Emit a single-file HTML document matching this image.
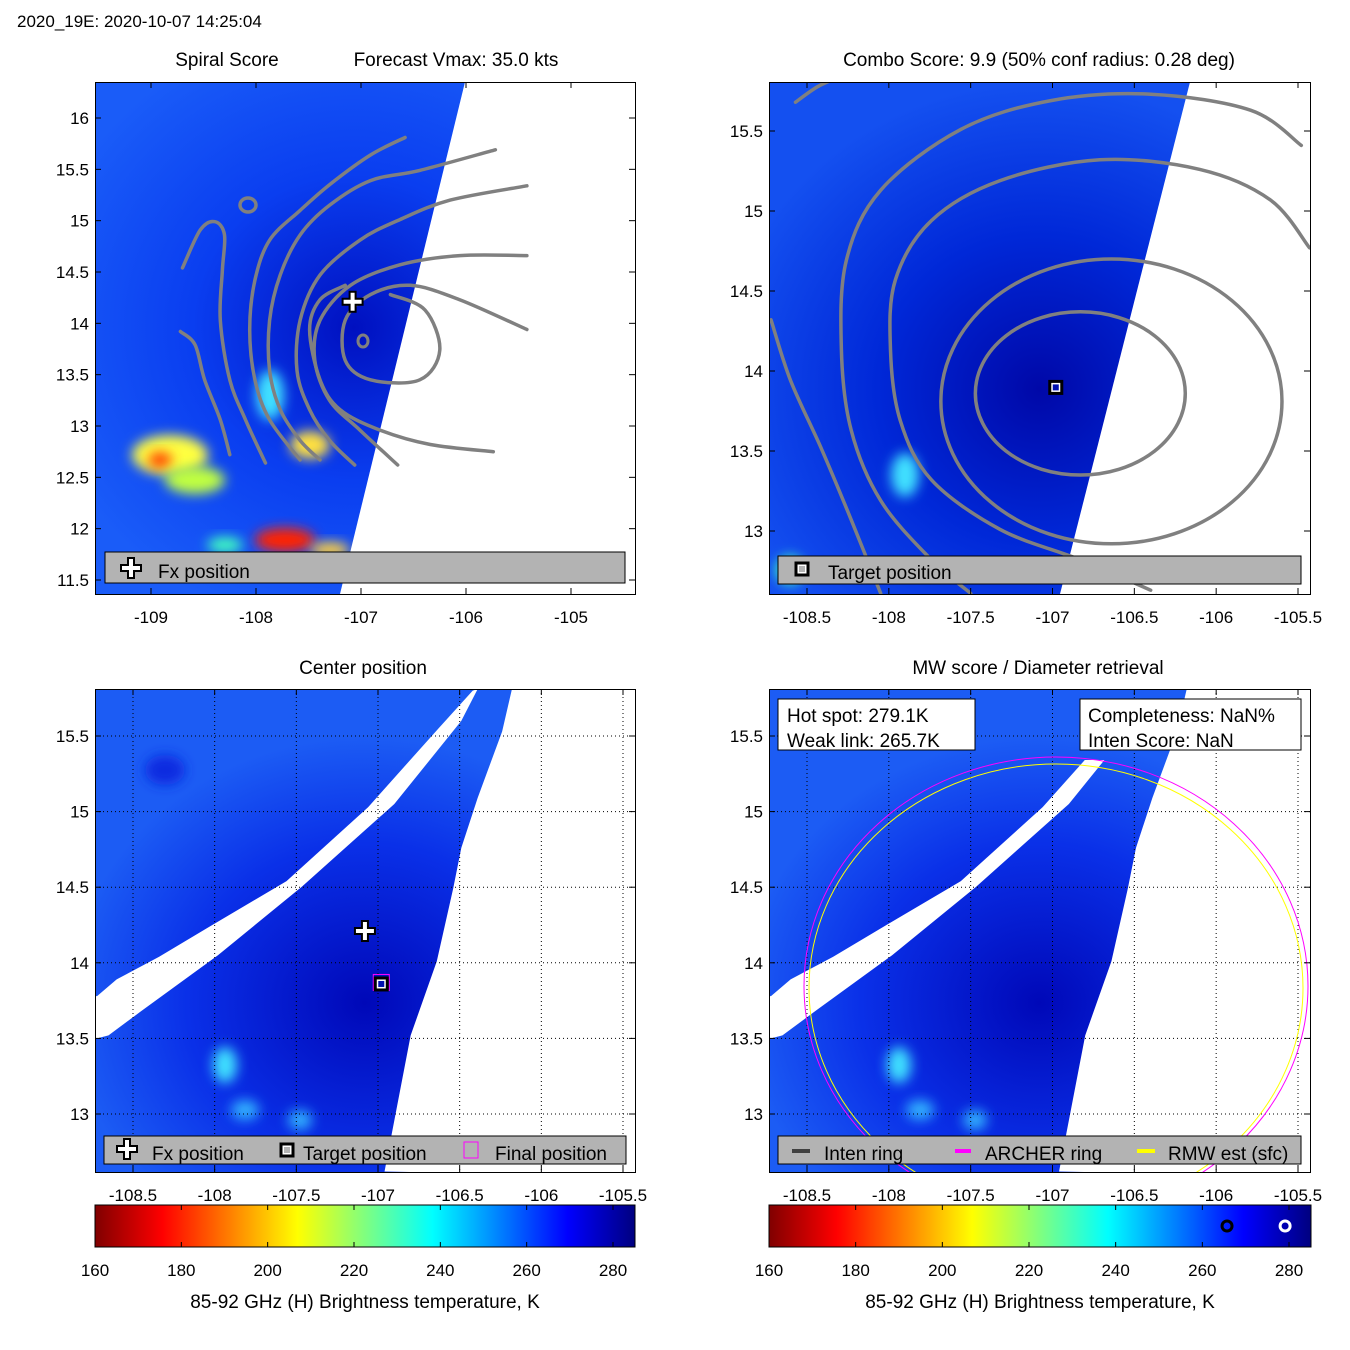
<!DOCTYPE html>
<html><head><meta charset="utf-8">
<style>
html,body{margin:0;padding:0;background:#fff;}
svg{display:block;font-family:"Liberation Sans",Arial,sans-serif;}
text{font-size:19px;fill:#000;}
text.tick{font-size:17px;}
</style></head>
<body>
<svg id="fig" width="1350" height="1350" viewBox="0 0 1350 1350" xmlns="http://www.w3.org/2000/svg">
<defs>
<linearGradient id="jet" x1="0" x2="1" y1="0" y2="0">
<stop offset="0" stop-color="#800000"/><stop offset="0.125" stop-color="#ff0000"/>
<stop offset="0.375" stop-color="#ffff00"/><stop offset="0.625" stop-color="#00ffff"/>
<stop offset="0.875" stop-color="#0000ff"/><stop offset="1" stop-color="#000080"/>
</linearGradient>
<radialGradient id="bg1" cx="0.48" cy="0.48" r="0.6"><stop offset="0" stop-color="#0010c0"/><stop offset="0.5" stop-color="#0a3ef0"/><stop offset="1" stop-color="#1a5cf8"/></radialGradient>
<radialGradient id="bg2" cx="0.5" cy="0.6" r="0.6"><stop offset="0" stop-color="#0008a8"/><stop offset="0.5" stop-color="#0028d8"/><stop offset="1" stop-color="#1450f0"/></radialGradient>
<radialGradient id="bg3" cx="0.5" cy="0.65" r="0.55"><stop offset="0" stop-color="#0008b8"/><stop offset="0.6" stop-color="#0a30e8"/><stop offset="1" stop-color="#1c5cf4"/></radialGradient>
<filter id="blur" x="-50%" y="-50%" width="200%" height="200%"><feGaussianBlur stdDeviation="6"/></filter>
<clipPath id="cp1"><rect x="95" y="82" width="540" height="512"/></clipPath>
<clipPath id="cp2"><rect x="769" y="82" width="541" height="512"/></clipPath>
<clipPath id="cp3"><rect x="95" y="689" width="540" height="483"/></clipPath>
<clipPath id="cp4"><rect x="769" y="689" width="541" height="483"/></clipPath>
<clipPath id="cp4b"><rect x="769" y="760" width="541" height="412"/></clipPath>
</defs>
<g id="layer"></g>
</svg>
<script>
// ---------- data ----------
const p1XTicks=[-109,-108,-107,-106,-105];
const p1YTicks=[16,15.5,15,14.5,14,13.5,13,12.5,12,11.5];
const pXTicks=[-108.5,-108,-107.5,-107,-106.5,-106,-105.5];
const p2YTicks=[15.5,15,14.5,14,13.5,13];
const p3YTicks=[15.5,15,14.5,14,13.5,13];
const cbTicks=[160,180,200,220,240,260,280];
// panel 1 contours (lon / lat)
const c1Lon=[[-105.72,-106.44,-106.91,-107.30,-107.58,-107.77,-107.87,-107.87,-107.77,-107.58,-107.39],
[-105.42,-106.15,-106.63,-107.01,-107.39,-107.58,-107.61,-107.49,-107.30,-107.06],
[-105.42,-106.06,-106.63,-107.10,-107.39,-107.44,-107.30,-107.01,-106.65],
[-105.42,-106.06,-106.53,-106.91,-107.15,-107.15,-106.91,-106.44,-106.25,-106.39,-106.72],
[-105.74,-106.34,-106.82,-107.20,-107.39,-107.49,-107.39,-107.15],
[-106.58,-106.91,-107.30,-107.58,-107.87,-108.01,-108.06,-108.01,-107.87,-107.58],
[-108.70,-108.53,-108.39,-108.30,-108.32,-108.34,-108.25,-108.10,-107.91],
[-108.72,-108.58,-108.49,-108.34,-108.25]];
const c1Lat=[[15.69,15.49,15.39,15.15,14.86,14.47,14.03,13.54,13.16,12.86,12.67],
[15.34,15.20,15.01,14.81,14.47,14.03,13.54,13.16,12.86,12.62],
[14.66,14.66,14.57,14.37,14.03,13.64,13.25,12.96,12.62],
[13.94,14.23,14.37,14.28,14.03,13.64,13.45,13.45,13.74,14.13,14.28],
[12.75,12.82,12.96,13.16,13.45,13.94,14.23,14.37],
[15.81,15.64,15.35,15.10,14.81,14.42,13.94,13.45,13.06,12.67],
[14.54,14.91,14.99,14.86,14.52,14.03,13.45,13.06,12.64],
[13.92,13.79,13.45,13.06,12.72]];
// panel 2 contours
const c2Lon=[[-105.43,-105.67,-106.10,-106.71,-107.32,-107.74,-107.96,-107.99,-107.93,-107.74,-107.32,-106.83,-106.40],
[-105.48,-105.79,-106.40,-107.01,-107.56,-108.05,-108.26,-108.29,-108.23,-108.05,-107.74,-107.50],
[-108.72,-108.60,-108.41,-108.23,-108.05],
[-108.57,-108.43,-108.27]];
const c2Lat=[[14.77,15.07,15.26,15.32,15.19,14.94,14.57,14.13,13.69,13.32,13.01,12.82,12.63],
[15.41,15.63,15.73,15.69,15.51,15.13,14.69,14.13,13.63,13.19,12.82,12.61],
[14.32,13.94,13.51,13.07,12.61],
[15.68,15.78,15.85]];
const ellCLon=[-106.83,-106.64], ellCLat=[13.86,13.81], ellRLon=[0.64,1.04], ellRLat=[0.51,0.89];
const fxLon=-107.08, fxLat=14.21;
const tgtLon=-106.98, tgtLat=13.86;
const finLon=-106.98, finLat=13.87;
const hotSpot=279.1, weakLink=265.7;
// missing-data gap (lon/lat) in panels 3-4
const gapUpLon=[-108.72,-108.60,-108.34,-108.03,-107.56,-107.06,-106.63,-106.42];
const gapUpLat=[13.78,13.89,14.04,14.24,14.54,15.03,15.55,15.80];
const gapLoLon=[-106.39,-106.49,-106.90,-107.47,-107.98,-108.45,-108.65,-108.72];
const gapLoLat=[15.81,15.60,15.05,14.50,14.05,13.68,13.52,13.50];
const edgeLon=[-106.18,-106.24,-106.39,-106.49,-106.54,-106.64,-106.80,-106.96];
const edgeLat=[15.81,15.53,15.09,14.76,14.49,14.01,13.52,12.62];

// ---------- axes ----------
function mk(x0,x1,l0,l1){return v=>x0+(v-l0)*(x1-x0)/(l1-l0);}
const P=[
 {x:mk(151,571,-109,-105),y:mk(118,580,16,11.5),L:95,T:82,W:540,H:512},
 {x:mk(807,1298,-108.5,-105.5),y:mk(131,531,15.5,13),L:769,T:82,W:541,H:512},
 {x:mk(133,623,-108.5,-105.5),y:mk(736,1114,15.5,13),L:95,T:689,W:540,H:483},
 {x:mk(807,1298,-108.5,-105.5),y:mk(736,1114,15.5,13),L:769,T:689,W:541,H:483}];
const cbX=[mk(95,613,160,280),mk(769,1289,160,280)];
const NS="http://www.w3.org/2000/svg";
const root=document.getElementById('layer');
function el(tag,attrs,parent,txt){const e=document.createElementNS(NS,tag);for(const k in attrs)e.setAttribute(k,attrs[k]);if(txt!==undefined)e.textContent=txt;(parent||root).appendChild(e);return e;}
function txt(x,y,s,anchor,parent,name,cls){const t=el('text',{x:x,y:y,'text-anchor':anchor||'start'},parent,s);
if(cls)t.setAttribute('class',cls);

return t;}

txt(17,27,'2020_19E: 2020-10-07 14:25:04','start',null,'figure-title','tick');
txt(227,66,'Spiral Score','middle',null,'spiral-score-title');
txt(456,66,'Forecast Vmax: 35.0 kts','middle',null,'forecast-vmax-title');
txt(1039,66,'Combo Score: 9.9  (50% conf radius: 0.28 deg)','middle',null,'combo-score-title');
txt(363,674,'Center position','middle',null,'center-position-title');
txt(1038,674,'MW score / Diameter retrieval','middle',null,'mw-score-title');

function panelBase(i,bg,swath,name){
 const p=P[i];
 const g=el('g',{'clip-path':'url(#cp'+(i+1)+')'});
 
 
 el('rect',{x:p.L,y:p.T,width:p.W,height:p.H,fill:'url(#'+bg+')'},g);
 return g;
}
function swathPoly(g,pts){el('polygon',{points:pts.map(q=>q.join(',')).join(' '),fill:'#fff'},g);}
function frame(i,xt,yt,name){
 const p=P[i];
 const f=el('rect',{x:p.L+0.5,y:p.T+0.5,width:p.W,height:p.H,fill:'none',stroke:'#000','stroke-width':1});
 
 
 xt.forEach(v=>{const X=p.x(v);
  el('line',{x1:X,x2:X,y1:p.T+p.H,y2:p.T+p.H-6,stroke:'#000'});el('line',{x1:X,x2:X,y1:p.T,y2:p.T+6,stroke:'#000'});
  txt(X,p.T+p.H+29,String(v),'middle',null,'x-tick-label','tick');});
 yt.forEach(v=>{const Y=p.y(v);
  el('line',{x1:p.L,x2:p.L+6,y1:Y,y2:Y,stroke:'#000'});el('line',{x1:p.L+p.W,x2:p.L+p.W-6,y1:Y,y2:Y,stroke:'#000'});
  txt(p.L-6,Y+6,String(v),'end',null,'y-tick-label','tick');});
}
function smoothPath(pts){
 let d='M'+pts[0][0].toFixed(1)+','+pts[0][1].toFixed(1);
 for(let i=0;i<pts.length-1;i++){
  const p0=pts[Math.max(0,i-1)],p1=pts[i],p2=pts[i+1],p3=pts[Math.min(pts.length-1,i+2)];
  const c1=[p1[0]+(p2[0]-p0[0])/6,p1[1]+(p2[1]-p0[1])/6],c2=[p2[0]-(p3[0]-p1[0])/6,p2[1]-(p3[1]-p1[1])/6];
  d+=` C${c1[0].toFixed(1)},${c1[1].toFixed(1)} ${c2[0].toFixed(1)},${c2[1].toFixed(1)} ${p2[0].toFixed(1)},${p2[1].toFixed(1)}`;
 }
 return d;
}
function contours(g,i,lons,lats){
 const p=P[i];
 lons.forEach((ln,k)=>{const pts=ln.map((v,j)=>[p.x(v),p.y(lats[k][j])]);
  const c=el('path',{d:smoothPath(pts),fill:'none',stroke:'#808080','stroke-width':3.5,'stroke-linejoin':'round','stroke-linecap':'round'},g);
  
  });
}
function plusMark(x,y,parent){el('path',{d:`M${x-3},${y-10}h6v7h7v6h-7v7h-6v-7h-7v-6h7z`,fill:'#fff',stroke:'#000','stroke-width':2},parent);}
function sqMark(x,y,parent,fill){el('rect',{x:x-6,y:y-6,width:12,height:12,fill:'#fff',stroke:'#000','stroke-width':3},parent);
 if(fill)el('rect',{x:x-3,y:y-3,width:6,height:6,fill:fill},parent);}
function legendBox(x,y,w,h,parent,name){const r=el('rect',{x:x,y:y,width:w,height:h,fill:'#b3b3b3',stroke:'#000'},parent);
 }

// panel 1
let g=panelBase(0,'bg1','', 'spiral-score');
[[170,455,38,20,'#ffff40'],[160,460,12,8,'#ff4000'],[195,480,30,14,'#c0ff40'],[285,540,30,12,'#ff2000'],[270,395,14,25,'#40e0ff'],[310,445,20,14,'#ffe040'],[225,545,18,8,'#40ffc0'],[330,550,20,8,'#ffd040']].forEach(b=>{
 el('ellipse',{cx:b[0],cy:b[1],rx:b[2],ry:b[3],fill:b[4],filter:'url(#blur)'},g);});
swathPoly(g,[[465,82],[640,82],[640,594],[340,594]]);
contours(g,0,c1Lon,c1Lat);
el('ellipse',{cx:248,cy:205,rx:8,ry:7,fill:'none',stroke:'#808080','stroke-width':3.5},g);
el('ellipse',{cx:363,cy:341,rx:5,ry:6,fill:'none',stroke:'#808080','stroke-width':3},g);
plusMark(P[0].x(fxLon),P[0].y(fxLat),g);
frame(0,p1XTicks,p1YTicks,'spiral-score');
legendBox(105,552,520,31,null,'legend-spiral');
plusMark(131,568,null);txt(158,578,'Fx position','start',null,'legend-fx-position');

// panel 2
g=panelBase(1,'bg2','','combo-score');
el('ellipse',{cx:905,cy:475,rx:14,ry:22,fill:'#40e0ff',filter:'url(#blur)'},g);
el('ellipse',{cx:790,cy:570,rx:14,ry:14,fill:'#40ffc0',filter:'url(#blur)'},g);
swathPoly(g,[[1190,82],[1315,82],[1315,594],[1060,594]]);
contours(g,1,c2Lon,c2Lat);
ellCLon.forEach((c,k)=>{const e=el('ellipse',{cx:P[1].x(c),cy:P[1].y(ellCLat[k]),rx:ellRLon[k]*164,ry:ellRLat[k]*160,fill:'none',stroke:'#808080','stroke-width':3.5},g);
 });
sqMark(P[1].x(tgtLon),P[1].y(tgtLat)-6,g,'#0010b0');
frame(1,pXTicks,p2YTicks,'combo-score');
legendBox(778,556,523,28,null,'legend-combo');
sqMark(802,569,null,'#b3b3b3');txt(828,579,'Target position','start',null,'legend-target-position');

// panels 3 & 4
function gapAndEdge(g,i,gg){
 const p=P[i];
 const gp=gapUpLon.map((v,k)=>[p.x(v),p.y(gapUpLat[k])]).concat(gapLoLon.map((v,k)=>[p.x(v),p.y(gapLoLat[k])]));
 gp.push([p.L-5,p.y(gapLoLat[gapLoLat.length-1])],[p.L-5,p.y(gapUpLat[0])]);
 swathPoly(gg||g,gp);
 const ep=edgeLon.map((v,k)=>[p.x(v),p.y(edgeLat[k])]);
 ep.push([p.L+p.W+5,p.T+p.H+5],[p.L+p.W+5,p.T-5],[p.x(edgeLon[0]),p.T-5]);
 swathPoly(g,ep);
}
g=panelBase(2,'bg3','','center-position');
[[225,1065,12,18,'#40e0ff'],[245,1110,14,10,'#30b0ff'],[300,1120,12,10,'#30b0ff'],[165,770,20,15,'#0a2ce0']].forEach(b=>el('ellipse',{cx:b[0],cy:b[1],rx:b[2],ry:b[3],fill:b[4],filter:'url(#blur)'},g));
gapAndEdge(g,2);
[...pXTicks].forEach(v=>el('line',{x1:P[2].x(v),x2:P[2].x(v),y1:689,y2:1172,stroke:'#000','stroke-dasharray':'1,3','stroke-width':1},g));
p3YTicks.forEach(v=>el('line',{x1:95,x2:635,y1:P[2].y(v),y2:P[2].y(v),stroke:'#000','stroke-dasharray':'1,3','stroke-width':1},g));
plusMark(P[2].x(fxLon),P[2].y(fxLat),g);
el('rect',{x:P[2].x(finLon)-8,y:P[2].y(finLat)-8,width:16,height:16,fill:'none',stroke:'#ff00ff','stroke-width':1},g);
sqMark(P[2].x(tgtLon),P[2].y(tgtLat),g,'#0010b0');
frame(2,pXTicks,p3YTicks,'center-position');
legendBox(104,1136,522,28,null,'legend-center');
plusMark(127,1149,null);txt(152,1160,'Fx position','start',null,'legend-fx-position');
sqMark(287,1150,null,'#b3b3b3');txt(303,1160,'Target position','start',null,'legend-target-position');
el('rect',{x:464,y:1142,width:14,height:16,fill:'none',stroke:'#ff00ff'});txt(495,1160,'Final position','start',null,'legend-final-position');

g=panelBase(3,'bg3','','mw-score');
[[899,1065,12,18,'#40e0ff'],[920,1110,14,10,'#30b0ff'],[975,1120,12,10,'#30b0ff']].forEach(b=>el('ellipse',{cx:b[0],cy:b[1],rx:b[2],ry:b[3],fill:b[4],filter:'url(#blur)'},g));
const g4=el('g',{'clip-path':'url(#cp4b)'},g);
gapAndEdge(g,3,g4);
[...pXTicks].forEach(v=>el('line',{x1:P[3].x(v),x2:P[3].x(v),y1:689,y2:1172,stroke:'#000','stroke-dasharray':'1,3'},g));
p3YTicks.forEach(v=>el('line',{x1:769,x2:1310,y1:P[3].y(v),y2:P[3].y(v),stroke:'#000','stroke-dasharray':'1,3'},g));
el('ellipse',{cx:1056,cy:986,rx:252,ry:229,fill:'none',stroke:'#ff00ff','stroke-width':1},g);
el('ellipse',{cx:1056,cy:988,rx:247,ry:224,fill:'none',stroke:'#ffff00','stroke-width':1},g);
frame(3,pXTicks,p3YTicks,'mw-score');
let b=el('rect',{x:778,y:699,width:197,height:51,fill:'#fff',stroke:'#000'});
txt(787,722,'Hot spot: '+hotSpot.toFixed(1)+'K','start',null,'hot-spot-text');txt(787,747,'Weak link: '+weakLink.toFixed(1)+'K','start',null,'weak-link-text');
b=el('rect',{x:1080,y:699,width:221,height:51,fill:'#fff',stroke:'#000'});
txt(1088,722,'Completeness: NaN%','start',null,'completeness-text');txt(1088,747,'Inten Score: NaN','start',null,'inten-score-text');
legendBox(778,1136,523,28,null,'legend-mw');
el('line',{x1:792,x2:810,y1:1151,y2:1151,stroke:'#404040','stroke-width':4});txt(824,1160,'Inten ring','start',null,'legend-inten-ring');
el('line',{x1:955,x2:971,y1:1151,y2:1151,stroke:'#ff00ff','stroke-width':4});txt(985,1160,'ARCHER ring','start',null,'legend-archer-ring');
el('line',{x1:1137,x2:1155,y1:1151,y2:1151,stroke:'#ffff00','stroke-width':4});txt(1168,1160,'RMW est (sfc)','start',null,'legend-rmw');

// colorbars
[0,1].forEach(i=>{const x0=i?769:95,w=i?542:540;
 const r=el('rect',{x:x0,y:1205,width:w,height:42,fill:'url(#jet)',stroke:'#000'});
 
 cbTicks.forEach(v=>{const X=cbX[i](v);el('line',{x1:X,x2:X,y1:1205,y2:1210,stroke:'#000'});el('line',{x1:X,x2:X,y1:1247,y2:1242,stroke:'#000'});
  txt(X,1276,String(v),'middle',null,'colorbar-tick-label','tick');});
 txt(x0+w/2,1308,'85-92 GHz (H) Brightness temperature, K','middle',null,'colorbar-label');
});
el('circle',{cx:cbX[1](weakLink),cy:1226,r:5,fill:'none',stroke:'#000','stroke-width':3});
el('circle',{cx:cbX[1](hotSpot),cy:1226,r:5,fill:'none',stroke:'#fff','stroke-width':3});
</script>
</body></html>
